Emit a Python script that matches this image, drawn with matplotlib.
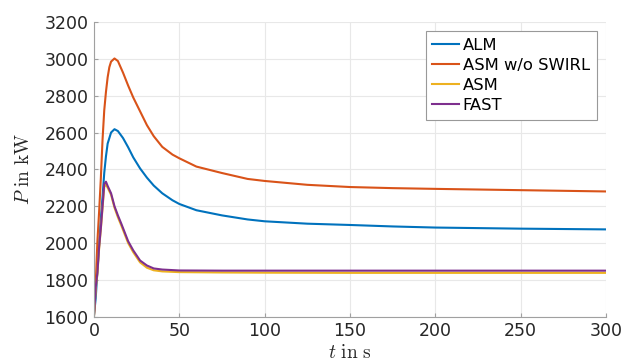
import matplotlib
matplotlib.use("Agg")
import matplotlib.pyplot as plt

plt.rcParams["mathtext.fontset"] = "cm"

# time (s) and power (kW)
t_alm = [0, 1, 2, 3, 4, 5, 6, 7, 8, 10, 12, 14, 17, 20, 23, 27, 31, 35, 40, 46, 50,
         60, 75, 90, 100, 125, 150, 175, 200, 250, 300]
p_alm = [1610, 1700, 1850, 1990, 2130, 2250, 2380, 2470, 2540, 2600, 2618, 2608, 2570,
         2520, 2465, 2405, 2355, 2312, 2270, 2232, 2212, 2178, 2150, 2128, 2118, 2105,
         2098, 2090, 2084, 2078, 2074]

t_nosw = [0, 1, 2, 3, 4, 5, 6, 7, 8, 9, 10, 12, 14, 17, 20, 23, 27, 31, 35, 40, 46, 50,
          60, 75, 90, 100, 125, 150, 175, 200, 250, 300]
p_nosw = [1610, 1780, 2010, 2170, 2350, 2560, 2720, 2820, 2900, 2955, 2985, 3002, 2988,
          2925, 2855, 2790, 2715, 2640, 2580, 2522, 2480, 2460, 2415, 2380, 2348, 2337,
          2316, 2304, 2298, 2294, 2287, 2280]

t_asm = [0, 1, 2, 3, 4, 5, 6, 7, 8, 10, 12, 14, 16, 20, 23, 27, 31, 35, 40, 50, 75,
         100, 150, 200, 250, 300]
p_asm = [1605, 1750, 1835, 1970, 2075, 2190, 2305, 2318, 2300, 2262, 2192, 2140, 2095,
         2000, 1950, 1895, 1866, 1852, 1846, 1842, 1840, 1839, 1838, 1838, 1838, 1838]

t_fast = [0, 1, 2, 3, 4, 5, 6, 7, 8, 10, 12, 14, 16, 20, 23, 27, 31, 35, 40, 50, 75,
          100, 150, 200, 250, 300]
p_fast = [1610, 1760, 1840, 1980, 2080, 2200, 2320, 2333, 2310, 2270, 2200, 2150, 2105,
          2010, 1960, 1905, 1878, 1862, 1856, 1851, 1850, 1850, 1850, 1850, 1850, 1850]

labels = ["ALM", "ASM w/o SWIRL", "ASM", "FAST"]
colors = ["#0072BD", "#D95319", "#EDB120", "#7E2F8E"]

fig = plt.figure(figsize=(6.33, 3.63), dpi=100)
ax = fig.add_axes([94 / 633, 1 - 316.7 / 363, (606 - 94) / 633, (316.7 - 22) / 363])

series = [(t_alm, p_alm), (t_nosw, p_nosw), (t_asm, p_asm), (t_fast, p_fast)]
for (t, p), lab, col in zip(series, labels, colors):
    ax.plot(t, p, color=col, lw=1.5, label=lab)

ax.set_xlim(0, 300)
ax.set_ylim(1600, 3200)
ax.set_xticks(range(0, 301, 50))
ax.set_yticks(range(1600, 3201, 200))
ax.grid(True, color="#e8e8e8", lw=0.8)
ax.set_axisbelow(True)
for s in ["top", "right"]:
    ax.spines[s].set_visible(False)
for s in ["left", "bottom"]:
    ax.spines[s].set_color("#a0a0a0")
    ax.spines[s].set_linewidth(0.8)
ax.tick_params(direction="in", length=3, color="#a0a0a0", labelsize=12.5,
               labelcolor="#262626", pad=4)

ax.set_xlabel(r"$t\ \mathrm{in\ s}$", fontsize=14, color="#262626", labelpad=2)
ax.set_ylabel(r"$P\ \mathrm{in\ kW}$", fontsize=14, color="#262626", labelpad=8)

leg = ax.legend(loc="upper right", bbox_to_anchor=(0.982, 0.97), borderaxespad=0,
                fontsize=11.8, fancybox=False, framealpha=1, edgecolor="#999999",
                handlelength=1.65, handletextpad=0.2, borderpad=0.42,
                labelspacing=0.31)
leg.get_frame().set_linewidth(0.8)

fig.savefig("out.png", dpi=100)
